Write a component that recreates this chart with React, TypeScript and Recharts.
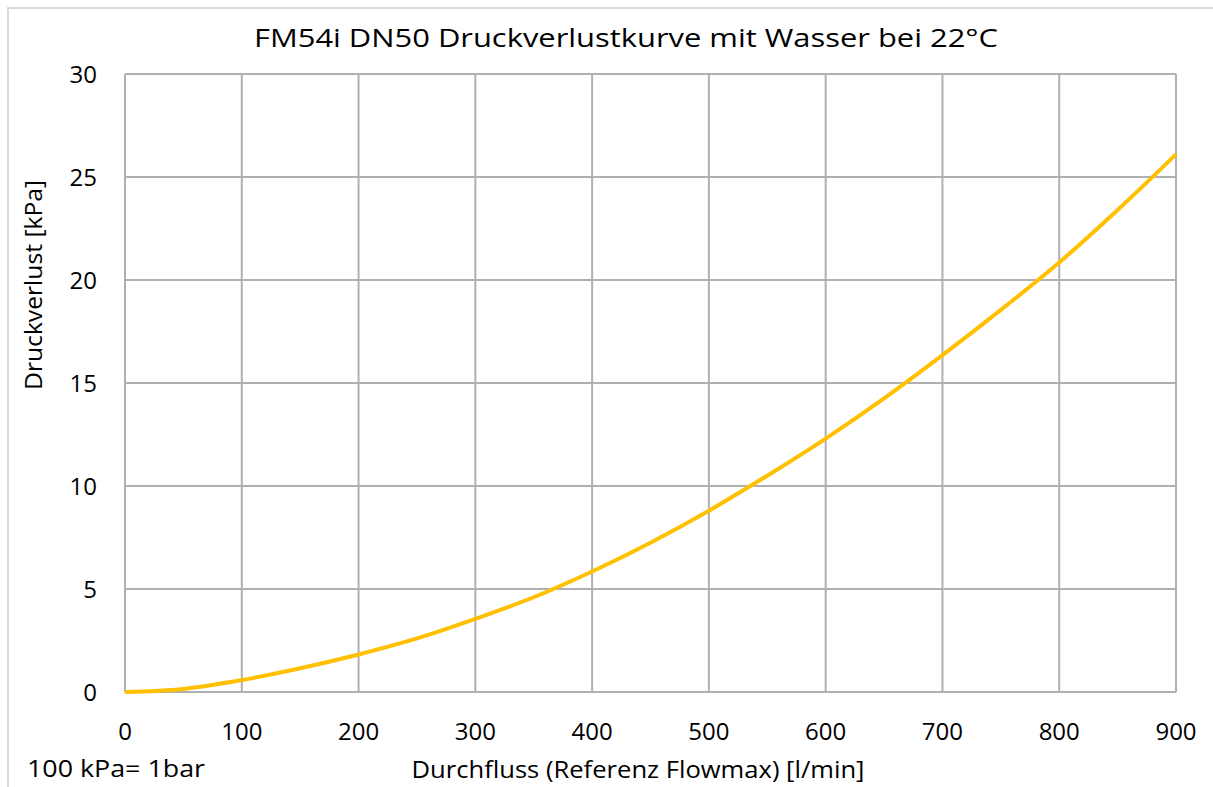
import React from "react";
import { LineChart, Line, XAxis, YAxis, CartesianGrid } from "recharts";

const flow = [0, 50, 100, 150, 200, 250, 300, 350, 400, 450, 500, 550, 600, 650, 700, 750, 800, 850, 900];
const pressure = [0, 0.15, 0.58, 1.15, 1.82, 2.6, 3.55, 4.6, 5.85, 7.25, 8.8, 10.5, 12.3, 14.25, 16.35, 18.55, 20.85, 23.4, 26.1];
const xTicks = [0, 100, 200, 300, 400, 500, 600, 700, 800, 900];
const yTicks = [0, 5, 10, 15, 20, 25, 30];

const title = "FM54i DN50 Druckverlustkurve mit Wasser bei 22°C";
const xLabel = "Durchfluss (Referenz Flowmax) [l/min]";
const yLabel = "Druckverlust [kPa]";
const note = "100 kPa= 1bar";

const data = flow.map((f, i) => ({ flow: f, p: pressure[i] }));

const FONT = "'Open Sans', Lato, sans-serif";
const GRID = "#b0b0b0";

export default function App() {
  return (
    <div style={{ position: "absolute", left: 0, top: 0, width: 1213, height: 787, background: "#fff", overflow: "hidden", fontFamily: FONT }}>
      <div style={{ position: "absolute", left: 7, top: 7, width: 1230, height: 800, border: "2px solid #d9d9d9", boxSizing: "border-box" }} />
      <LineChart
        width={1213}
        height={787}
        data={data}
        margin={{ top: 74, right: 37, bottom: 0, left: 0 }}
        style={{ position: "absolute", left: 0, top: 0 }}
      >
        <CartesianGrid stroke={GRID} strokeWidth={2} horizontalValues={yTicks} verticalValues={xTicks} />
        <XAxis
          dataKey="flow"
          type="number"
          domain={[0, 900]}
          ticks={xTicks}
          height={95}
          axisLine={false}
          tickLine={false}
          tickMargin={25}
          tick={{ fill: "#000", fontSize: 24, fontFamily: FONT }}
          interval={0}
        />
        <YAxis
          type="number"
          domain={[0, 30]}
          ticks={yTicks}
          width={125}
          axisLine={false}
          tickLine={false}
          tickMargin={22}
          tick={{ fill: "#000", fontSize: 24, fontFamily: FONT }}
          interval={0}
        />
        <Line type="monotone" dataKey="p" stroke="#FFC000" strokeWidth={4} dot={false} isAnimationActive={false} />
        <text x={626} y={47} textAnchor="middle" fontSize={26} fontFamily={FONT} fill="#000" textLength={744} lengthAdjust="spacingAndGlyphs">{title}</text>
        <text x={638} y={778} textAnchor="middle" fontSize={23} fontFamily={FONT} fill="#000" textLength={453} lengthAdjust="spacingAndGlyphs">{xLabel}</text>
        <text x={27} y={777} textAnchor="start" fontSize={23} fontFamily={FONT} fill="#000" textLength={178} lengthAdjust="spacingAndGlyphs">{note}</text>
        <text x={0} y={0} transform="translate(42,285) rotate(-90)" textAnchor="middle" fontSize={23} fontFamily={FONT} fill="#000" textLength={210} lengthAdjust="spacingAndGlyphs">{yLabel}</text>
      </LineChart>
    </div>
  );
}
